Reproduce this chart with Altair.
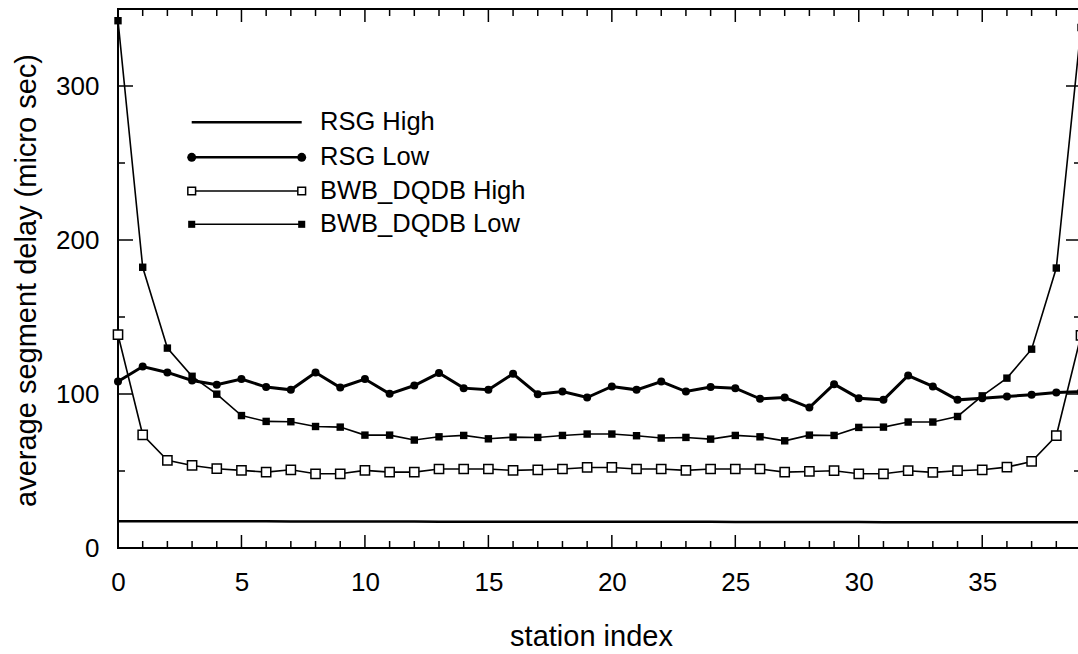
import altair as alt
import pandas as pd

# ---------------- data ----------------
stations = list(range(40))

rsg_high = [17.3, 17.3, 17.3, 17.3, 17.3, 17.3, 17.3, 17.2, 17.2, 17.2,
            17.2, 17.2, 17.2, 17.1, 17.1, 17.1, 17.1, 17.1, 17.1, 17.0,
            17.0, 17.0, 17.0, 17.0, 17.0, 16.9, 16.9, 16.9, 16.9, 16.9,
            16.9, 16.8, 16.8, 16.8, 16.8, 16.8, 16.8, 16.7, 16.7, 16.7]

rsg_low = [108.1, 117.8, 114.0, 108.8, 106.0, 109.7, 104.5, 102.7, 114.0, 104.2,
           109.7, 100.1, 105.5, 113.6, 103.8, 102.7, 113.1, 99.9, 101.6, 97.7,
           104.9, 102.7, 108.1, 101.6, 104.5, 103.8, 96.9, 97.7, 91.2, 106.4,
           97.3, 96.2, 112.0, 104.9, 96.2, 97.3, 98.4, 99.5, 101.0, 101.5]

bwb_high = [138.5, 73.5, 56.9, 53.6, 51.5, 50.4, 49.3, 50.8, 48.2, 48.2,
            50.4, 49.3, 49.3, 51.3, 51.3, 51.3, 50.4, 50.8, 51.3, 52.3,
            52.3, 51.3, 51.3, 50.4, 51.3, 51.3, 51.3, 49.3, 49.7, 50.2,
            48.2, 48.2, 50.2, 49.1, 50.2, 50.8, 52.5, 56.2, 72.9, 138.0]

bwb_low = [342.4, 182.3, 129.8, 111.5, 99.9, 86.0, 82.2, 82.0, 78.9, 78.5,
           73.3, 73.3, 70.1, 72.2, 73.1, 70.9, 72.0, 71.8, 73.1, 74.0,
           74.0, 72.9, 71.4, 71.8, 70.7, 73.1, 72.2, 69.6, 73.3, 73.1,
           78.3, 78.5, 81.8, 81.8, 85.4, 98.8, 110.3, 129.1, 181.8, 338.0]

series_names = ["RSG High", "RSG Low", "BWB_DQDB High", "BWB_DQDB Low"]
series_values = [rsg_high, rsg_low, bwb_high, bwb_low]

x_label_values = [0, 5, 10, 15, 20, 25, 30, 35]
y_label_values = [0, 100, 200, 300]
y_minor_values = [50, 150, 250]

rows = []
for name, vals in zip(series_names, series_values):
    for s, v in zip(stations, vals):
        rows.append({"station": s, "delay": v, "series": name})
df = pd.DataFrame(rows)

# ---------------- layout ----------------
W, H = 963, 539
FONT = "Liberation Sans"

xscale = alt.Scale(domain=[0, 39], nice=False, zero=False)
yscale = alt.Scale(domain=[0, 350], nice=False)

x_axis = alt.Axis(values=x_label_values, title="station index", ticks=False, tickSize=0,
                  domain=False, grid=False, labelFontSize=26, labelPadding=21,
                  labelFont=FONT, labelColor="black", labelFlush=False, labelOverlap=False,
                  titleFont=FONT, titleFontSize=29, titleFontWeight="normal",
                  titleColor="black", titleX=473, titleY=97, titleBaseline="alphabetic")
y_axis = alt.Axis(values=y_label_values, title="average segment delay (micro sec)",
                  ticks=False, tickSize=0, domain=False, grid=False, labelFontSize=26,
                  labelPadding=19, labelFont=FONT, labelColor="black", labelFlush=False,
                  labelOverlap=False, titleFont=FONT, titleFontSize=29,
                  titleFontWeight="normal", titleColor="black", titleX=-83, titleY=271,
                  titleAngle=270, titleBaseline="alphabetic", titleAlign="center")

X = alt.X("station:Q", scale=xscale, axis=x_axis)
Y = alt.Y("delay:Q", scale=yscale, axis=y_axis)

base = alt.Chart(df).encode(x=X, y=Y)


def only(name):
    return base.transform_filter(alt.datum.series == name)


layers = []
# series lines and markers
layers.append(only("RSG High").mark_line(color="black", strokeWidth=2.5))
layers.append(only("BWB_DQDB Low").mark_line(color="black", strokeWidth=1.6))
layers.append(only("BWB_DQDB High").mark_line(color="black", strokeWidth=1.6))
layers.append(only("RSG Low").mark_line(color="black", strokeWidth=3))
layers.append(only("BWB_DQDB Low").mark_point(shape="square", filled=True, color="black",
                                                 size=55, opacity=1))
layers.append(only("BWB_DQDB High").mark_point(shape="square", filled=True, fill="white",
                                                  stroke="black", strokeWidth=1.5, size=85,
                                                  opacity=1))
layers.append(only("RSG Low").mark_point(shape="circle", filled=True, color="black",
                                            size=64, opacity=1))

# inward ticks on all four sides
x_major_df = pd.DataFrame({"station": x_label_values})
x_minor_df = pd.DataFrame({"station": [s for s in stations if s % 5 != 0]})
y_major_df = pd.DataFrame({"delay": y_label_values})
y_minor_df = pd.DataFrame({"delay": y_minor_values})

for d, ln in [(x_major_df, 13), (x_minor_df, 7)]:
    layers.append(alt.Chart(d).mark_rule(color="black", strokeWidth=1.5).encode(
        x=X, y=alt.value(H), y2=alt.value(H - ln)))
    layers.append(alt.Chart(d).mark_rule(color="black", strokeWidth=1.5).encode(
        x=X, y=alt.value(0), y2=alt.value(ln)))
for d, ln in [(y_major_df, 15), (y_minor_df, 7)]:
    layers.append(alt.Chart(d).mark_rule(color="black", strokeWidth=1.5).encode(
        y=Y, x=alt.value(0), x2=alt.value(ln)))
    layers.append(alt.Chart(d).mark_rule(color="black", strokeWidth=1.5).encode(
        y=Y, x=alt.value(W), x2=alt.value(W - ln)))

# hand-drawn legend
one = alt.Data(values=[{"k": 1}])
leg_x1, leg_x2, leg_tx = 73.7, 183.7, 202
leg_rows = [113.3, 148.3, 182.0, 215.3]
leg_widths = [2.5, 2.5, 1.6, 1.6]
for name, ly, lw in zip(series_names, leg_rows, leg_widths):
    layers.append(alt.Chart(one).mark_rule(color="black", strokeWidth=lw).encode(
        x=alt.value(leg_x1), x2=alt.value(leg_x2), y=alt.value(ly)))
    for lx in (leg_x1, leg_x2):
        if name == "RSG Low":
            m = alt.Chart(one).mark_point(shape="circle", filled=True, color="black",
                                          size=80, opacity=1)
        elif name == "BWB_DQDB High":
            m = alt.Chart(one).mark_point(shape="square", filled=True, fill="white",
                                          stroke="black", strokeWidth=1.5, size=60,
                                          opacity=1)
        elif name == "BWB_DQDB Low":
            m = alt.Chart(one).mark_point(shape="square", filled=True, color="black",
                                          size=50, opacity=1)
        else:
            m = None
        if m is not None:
            layers.append(m.encode(x=alt.value(lx), y=alt.value(ly)))
    layers.append(alt.Chart(one).mark_text(align="left", baseline="middle", font=FONT,
                                           fontSize=25.5, color="black").encode(
        x=alt.value(leg_tx), y=alt.value(ly), text=alt.value(name)))

chart = alt.layer(*layers).properties(
    width=W, height=H,
    autosize=alt.AutoSizeParams(type="none"),
    padding={"left": 118, "top": 9, "right": -3, "bottom": 106},
    background="white",
).configure_view(stroke="black", strokeWidth=2)

chart.save("out.html", embed_options={"renderer": "svg", "actions": False})
